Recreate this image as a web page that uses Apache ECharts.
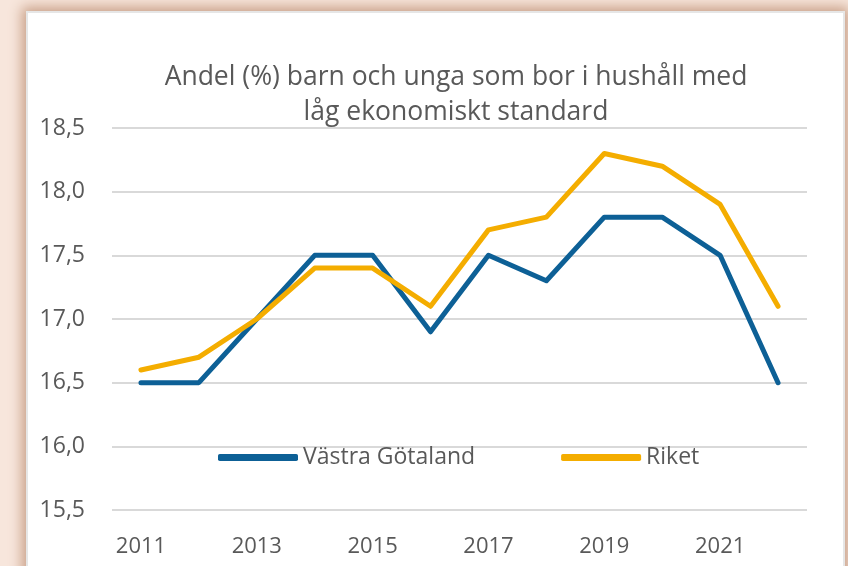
<!DOCTYPE html>
<html>
<head>
<meta charset="utf-8">
<script src="https://cdn.jsdelivr.net/npm/echarts@6/dist/echarts.min.js"></script>
<style>
  html, body { margin: 0; padding: 0; }
  body { width: 848px; height: 566px; background: #f7e6dc; position: relative; overflow: hidden; }
  #frame {
    position: absolute; left: 26px; top: 11px; width: 815px; height: 600px;
    background: #fff; border: 2px solid #e6e6e6;
    box-shadow: 0 0 12px 4px #c9a088;
  }
  #main { position: absolute; left: 0; top: 0; width: 848px; height: 566px; }
</style>
</head>
<body>
<div id="frame"></div>
<div id="main"></div>
<script>
  // data
  const years = ['2011', '2012', '2013', '2014', '2015', '2016', '2017', '2018', '2019', '2020', '2021', '2022']
  const vastraGotaland = [16.5, 16.5, 17.0, 17.5, 17.5, 16.9, 17.5, 17.3, 17.8, 17.8, 17.5, 16.5]
  const riket = [16.6, 16.7, 17.0, 17.4, 17.4, 17.1, 17.7, 17.8, 18.3, 18.2, 17.9, 17.1]
  const seriesNames = ['Västra Götaland', 'Riket']

  const font = 'Open Sans'
  const grey = '#595959'

  const chart = echarts.init(document.getElementById('main'))
  const option = {
    animation: false,
    title: {
      text: 'Andel (%) barn och unga som bor i hushåll med\nlåg ekonomiskt standard',
      left: 451,
      textAlign: 'center',
      top: 55,
      textStyle: { fontFamily: font, fontSize: 26.5, fontWeight: 'normal', color: grey, lineHeight: 35 }
    },
    legend: {
      left: 213,
      top: 441,
      itemWidth: 80,
      itemHeight: 7,
      itemGap: 86,
      icon: 'roundRect',
      textStyle: { fontFamily: font, fontSize: 23, color: grey, padding: [0, 0, 0, 0] },
      data: seriesNames
    },
    grid: { left: 112, right: 41, top: 128, bottom: 56 },
    xAxis: {
      type: 'category',
      data: years,
      axisLine: { show: false },
      axisTick: { show: false },
      axisLabel: { interval: 1, fontFamily: font, fontSize: 22, color: grey, margin: 26 }
    },
    yAxis: {
      type: 'value',
      min: 15.5,
      max: 18.5,
      interval: 0.5,
      axisLabel: {
        fontFamily: font, fontSize: 23, color: grey, margin: 27,
        formatter: v => v.toFixed(1).replace('.', ',')
      },
      splitLine: { lineStyle: { color: '#d9d9d9', width: 2 } }
    },
    series: [
      {
        name: seriesNames[0],
        type: 'line',
        data: vastraGotaland,
        symbol: 'none',
        color: '#0d6096',
        lineStyle: { width: 5, cap: 'round', join: 'round' }
      },
      {
        name: seriesNames[1],
        type: 'line',
        data: riket,
        symbol: 'none',
        color: '#f4ad00',
        lineStyle: { width: 5, cap: 'round', join: 'round' }
      }
    ]
  }
  chart.setOption(option)
</script>
</body>
</html>
